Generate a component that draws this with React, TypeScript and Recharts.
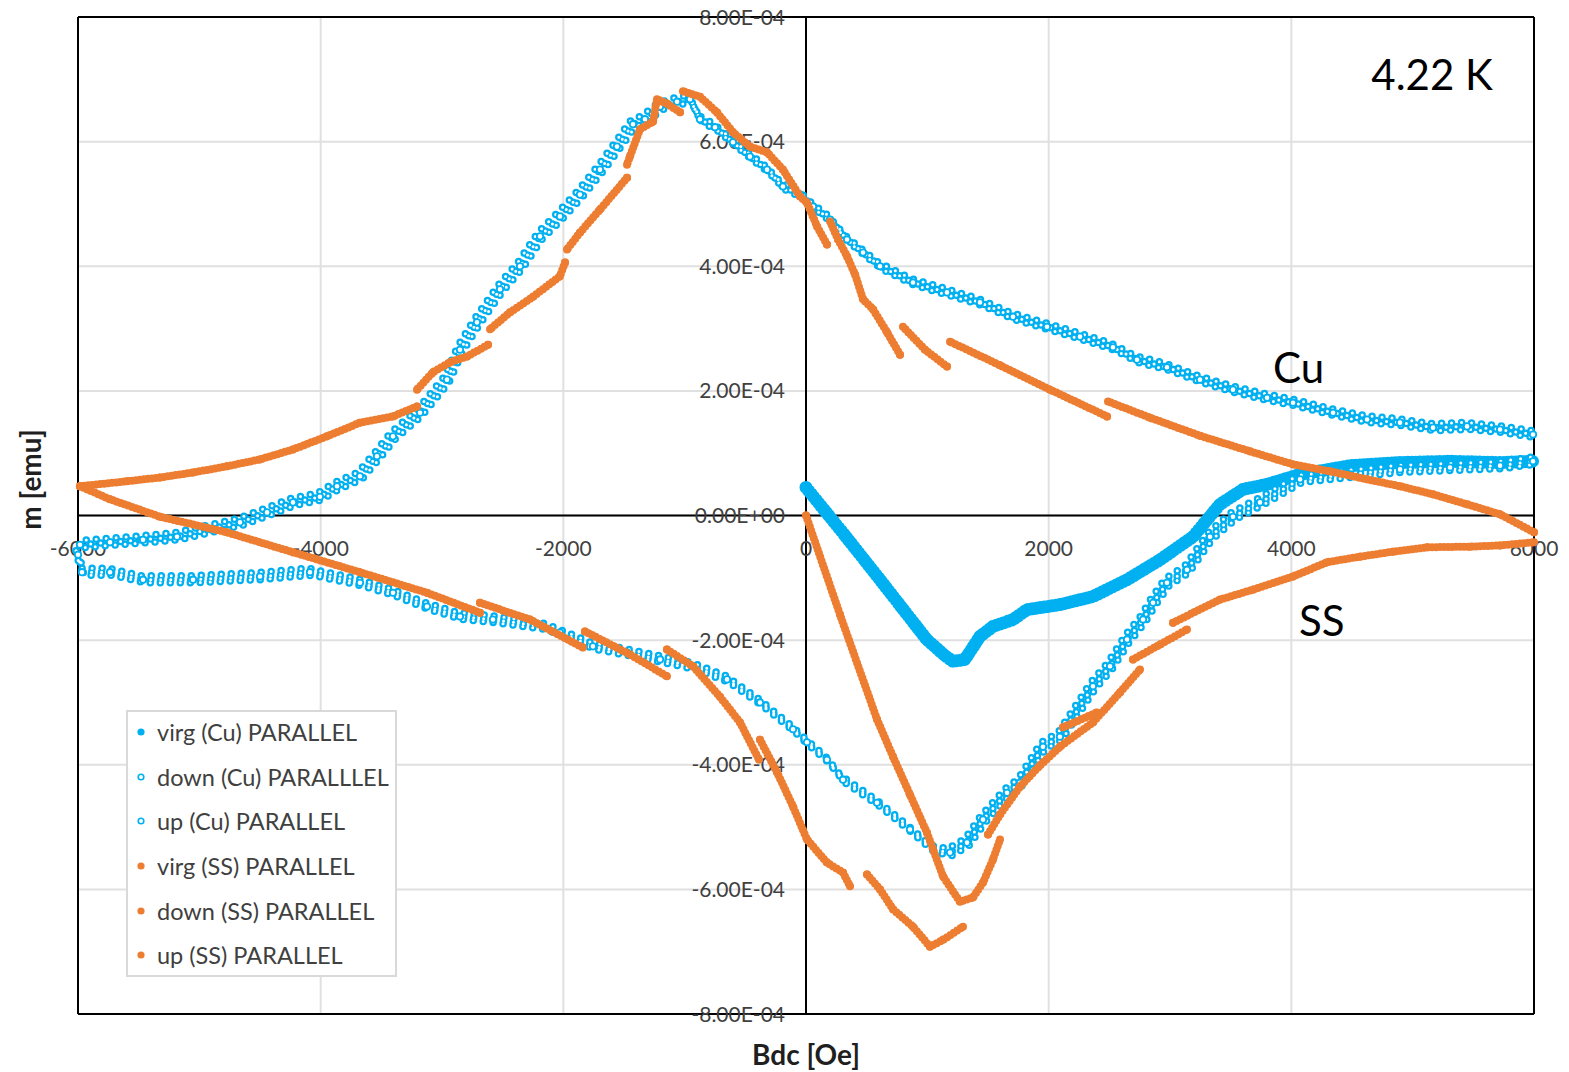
import React from "react";
import {
  ScatterChart,
  Scatter,
  XAxis,
  YAxis,
  CartesianGrid,
  ReferenceLine,
  ReferenceDot,
  Legend,
  Curve,
} from "recharts";

const BLUE = "#00b0f0";
const ORANGE = "#ed7d31";
const FONT = "Lato, 'Open Sans', sans-serif";

type P = [number, number]; // [field Oe, moment emu]

const xTicks = [-6000, -4000, -2000, 0, 2000, 4000, 6000];
const yTicks = [-8e-4, -6e-4, -4e-4, -2e-4, 0, 2e-4, 4e-4, 6e-4, 8e-4];

const seriesNames = [
  "virg (Cu) PARALLEL",
  "down (Cu) PARALLLEL",
  "up (Cu) PARALLEL",
  "virg (SS) PARALLEL",
  "down (SS) PARALLEL",
  "up (SS) PARALLEL",
];

// ---- Cu ----
const virgCu: P[] = [
  [0, 0.45e-4], [321, -0.32e-4], [610, -1.03e-4], [995, -1.99e-4], [1146, -2.25e-4],
  [1212, -2.34e-4], [1310, -2.31e-4], [1434, -1.94e-4], [1541, -1.78e-4], [1706, -1.67e-4],
  [1822, -1.51e-4], [2093, -1.43e-4], [2365, -1.3e-4], [2646, -1.03e-4], [2918, -0.71e-4],
  [3190, -0.34e-4], [3412, 0.18e-4], [3602, 0.42e-4], [3800, 0.5e-4], [4072, 0.66e-4],
  [4484, 0.8e-4], [4896, 0.85e-4], [5308, 0.87e-4], [5720, 0.85e-4], [5992, 0.87e-4],
];

const downCu: P[] = [
  [5992, 1.3e-4], [5720, 1.38e-4], [5448, 1.43e-4], [5168, 1.41e-4], [4896, 1.49e-4],
  [4624, 1.54e-4], [4344, 1.65e-4], [4014, 1.81e-4], [3800, 1.89e-4], [3519, 2.02e-4],
  [3247, 2.18e-4], [2975, 2.38e-4], [2728, 2.5e-4], [2530, 2.7e-4], [2258, 2.87e-4],
  [1986, 3.03e-4], [1706, 3.19e-4], [1434, 3.42e-4], [1162, 3.58e-4], [882, 3.74e-4],
  [610, 4.0e-4], [470, 4.22e-4], [338, 4.43e-4], [198, 4.75e-4], [58, 4.96e-4],
  [-49, 5.15e-4], [-190, 5.28e-4], [-321, 5.55e-4], [-462, 5.76e-4], [-602, 5.99e-4],
  [-750, 6.23e-4], [-874, 6.36e-4], [-956, 6.68e-4], [-1063, 6.64e-4], [-1203, 6.56e-4],
  [-1327, 6.36e-4], [-1426, 6.28e-4], [-1558, 5.92e-4], [-1698, 5.55e-4], [-1863, 5.15e-4],
  [-2028, 4.8e-4], [-2192, 4.48e-4], [-2357, 4.0e-4], [-2522, 3.63e-4], [-2712, 3.1e-4],
  [-2852, 2.66e-4], [-2959, 2.18e-4], [-3181, 1.65e-4], [-3404, 1.27e-4], [-3536, 0.95e-4],
  [-3676, 0.63e-4], [-3865, 0.47e-4], [-4006, 0.3e-4], [-4228, 0.21e-4], [-4442, 0.05e-4],
  [-4665, -0.11e-4], [-4912, -0.22e-4], [-5184, -0.34e-4], [-5464, -0.39e-4], [-5736, -0.43e-4],
  [-5984, -0.47e-4],
];

const upCu: P[] = [
  [-6000, -0.63e-4], [-5967, -0.91e-4], [-5736, -0.91e-4], [-5464, -1.03e-4], [-5052, -1.03e-4],
  [-4500, -0.98e-4], [-4088, -0.91e-4], [-3676, -1.08e-4], [-3404, -1.24e-4], [-3124, -1.46e-4],
  [-2852, -1.62e-4], [-2580, -1.67e-4], [-2168, -1.78e-4], [-2028, -1.88e-4], [-1756, -2.1e-4],
  [-1475, -2.2e-4], [-1203, -2.31e-4], [-931, -2.42e-4], [-651, -2.63e-4], [-379, -3.0e-4],
  [-107, -3.43e-4], [8, -3.64e-4], [173, -3.92e-4], [305, -4.24e-4], [585, -4.61e-4],
  [857, -5.04e-4], [1047, -5.36e-4], [1187, -5.41e-4], [1327, -5.25e-4], [1459, -4.88e-4],
  [1657, -4.45e-4], [1764, -4.29e-4], [1953, -3.71e-4], [2093, -3.55e-4], [2365, -2.74e-4],
  [2506, -2.42e-4], [2646, -1.99e-4], [2778, -1.67e-4], [2860, -1.4e-4], [2975, -1.08e-4],
  [3140, -0.87e-4], [3330, -0.34e-4], [3519, -0.02e-4], [3742, 0.21e-4], [4072, 0.58e-4],
  [4484, 0.66e-4], [4896, 0.74e-4], [5308, 0.77e-4], [5720, 0.8e-4], [5992, 0.87e-4],
];

// ---- SS ----
const virgSS: P[] = [
  [0, 0], [280, -1.59e-4], [585, -3.27e-4], [717, -3.87e-4], [857, -4.48e-4], [997, -5.09e-4],
  [1129, -5.79e-4], [1269, -6.2e-4], [1376, -6.13e-4], [1459, -5.89e-4], [1541, -5.52e-4],
  [1599, -5.2e-4],
];

const downSS1: P[] = [
  [6000, -0.27e-4], [5720, 0.02e-4], [5448, 0.18e-4], [5168, 0.34e-4], [4896, 0.47e-4],
  [4624, 0.58e-4], [4319, 0.71e-4], [4014, 0.82e-4], [3659, 1.03e-4], [3247, 1.28e-4],
  [2835, 1.57e-4], [2489, 1.83e-4],
];
const downSS2: P[] = [[2481, 1.59e-4], [2011, 2.02e-4], [1599, 2.41e-4], [1187, 2.79e-4]];
const downSS3: P[] = [[1162, 2.39e-4], [981, 2.66e-4], [799, 3.03e-4]];
const downSS4: P[] = [
  [775, 2.58e-4], [668, 2.94e-4], [552, 3.31e-4], [470, 3.47e-4], [404, 3.87e-4],
  [338, 4.16e-4], [264, 4.43e-4], [198, 4.72e-4],
];
const downSS5: P[] = [
  [173, 4.35e-4], [91, 4.64e-4], [8, 5.02e-4], [-49, 5.12e-4], [-190, 5.55e-4],
  [-321, 5.83e-4], [-462, 5.92e-4], [-602, 6.15e-4], [-734, 6.47e-4], [-874, 6.72e-4],
  [-1014, 6.81e-4],
];
const downSS6: P[] = [
  [-1038, 6.47e-4], [-1146, 6.61e-4], [-1228, 6.68e-4], [-1261, 6.32e-4], [-1368, 6.2e-4],
  [-1451, 5.76e-4], [-1475, 5.63e-4],
];
const downSS7: P[] = [[-1475, 5.42e-4], [-1698, 4.91e-4], [-1863, 4.54e-4], [-1970, 4.27e-4]];
const downSS8: P[] = [
  [-1986, 4.06e-4], [-2028, 3.84e-4], [-2250, 3.51e-4], [-2440, 3.26e-4], [-2604, 2.99e-4],
];
const downSS9: P[] = [
  [-2621, 2.74e-4], [-2794, 2.55e-4], [-2934, 2.46e-4], [-3074, 2.3e-4], [-3206, 2.02e-4],
];
const downSS10: P[] = [
  [-3206, 1.75e-4], [-3404, 1.59e-4], [-3676, 1.49e-4], [-3948, 1.27e-4], [-4228, 1.06e-4],
  [-4500, 0.9e-4], [-4772, 0.79e-4], [-5052, 0.69e-4], [-5324, 0.61e-4], [-5596, 0.55e-4],
  [-5984, 0.47e-4],
];

const upSS1: P[] = [
  [-5984, 0.47e-4], [-5736, 0.26e-4], [-5324, -0.02e-4], [-4772, -0.27e-4], [-4228, -0.59e-4],
  [-3676, -0.91e-4], [-3124, -1.24e-4], [-2687, -1.56e-4],
];
const upSS2: P[] = [[-2687, -1.4e-4], [-2275, -1.67e-4], [-1838, -2.12e-4]];
const upSS3: P[] = [[-1822, -1.86e-4], [-1451, -2.23e-4], [-1146, -2.58e-4]];
const upSS4: P[] = [
  [-1146, -2.15e-4], [-931, -2.42e-4], [-709, -2.91e-4], [-544, -3.32e-4], [-387, -3.92e-4],
];
const upSS5: P[] = [
  [-379, -3.6e-4], [-239, -4.12e-4], [-107, -4.67e-4], [8, -5.2e-4], [173, -5.57e-4],
  [305, -5.73e-4], [363, -5.95e-4],
];
const upSS6: P[] = [
  [503, -5.76e-4], [610, -6.0e-4], [717, -6.32e-4], [882, -6.6e-4], [1022, -6.92e-4],
  [1129, -6.81e-4], [1294, -6.6e-4],
];
const upSS7: P[] = [
  [1500, -5.12e-4], [1599, -4.8e-4], [1764, -4.35e-4], [1929, -4.01e-4], [2093, -3.71e-4],
  [2365, -3.32e-4], [2588, -2.84e-4], [2753, -2.47e-4],
];
const upSS8: P[] = [[2118, -3.4e-4], [2398, -3.16e-4]];
const upSS9: P[] = [[2695, -2.31e-4], [2918, -2.07e-4], [3140, -1.83e-4]];
const upSS10: P[] = [
  [3025, -1.72e-4], [3412, -1.35e-4], [3684, -1.19e-4], [4014, -0.98e-4], [4294, -0.75e-4],
  [4566, -0.66e-4], [4838, -0.58e-4], [5118, -0.51e-4], [5473, -0.5e-4], [5720, -0.48e-4],
  [6000, -0.43e-4],
];

const ssParts: P[][] = [
  virgSS,
  downSS1, downSS2, downSS3, downSS4, downSS5, downSS6, downSS7, downSS8, downSS9, downSS10,
  upSS1, upSS2, upSS3, upSS4, upSS5, upSS6, upSS7, upSS8, upSS9, upSS10,
];

const toPts = (a: P[]) => a.map(([x, y]) => ({ x, y }));

const fmtSci = (v: number) => {
  const [m, e] = v.toExponential(2).split("e");
  const n = parseInt(e, 10);
  return `${m}E${n < 0 ? "-" : "+"}${String(Math.abs(n)).padStart(2, "0")}`;
};

// dotted thick line: round caps with zero dash = a chain of dots
const dotLine = (color: string, width: number, gap: number) => (p: any) => (
  <Curve
    points={p.points}
    type="linear"
    fill="none"
    stroke={color}
    strokeWidth={width}
    strokeLinecap="round"
    strokeLinejoin="round"
    strokeDasharray={`0 ${gap}`}
  />
);

// chain of hollow rings, drawn as a loose band (a few shifted copies)
const ringShifts = [
  { dx: -2, dy: -4, off: 0 },
  { dx: 2, dy: 3, off: 5 },
  { dx: 0, dy: 0, off: 2.5 },
];
const ringLine = (p: any) => (
  <g>
    {ringShifts.map((s, i) => (
      <Curve key={`o${i}`} points={p.points} type="linear" fill="none" stroke={BLUE} strokeWidth={7.5}
        strokeLinecap="round" strokeDasharray="0 10" strokeDashoffset={s.off}
        transform={`translate(${s.dx},${s.dy})`} />
    ))}
    {ringShifts.map((s, i) => (
      <Curve key={`i${i}`} points={p.points} type="linear" fill="none" stroke="#fff" strokeWidth={3}
        strokeLinecap="round" strokeDasharray="0 10" strokeDashoffset={s.off}
        transform={`translate(${s.dx},${s.dy})`} />
    ))}
  </g>
);

const ringDot = (p: any) => (
  <circle cx={p.cx} cy={p.cy} r={3.2} fill="#fff" stroke={BLUE} strokeWidth={1.8} />
);
const fillDot = (color: string, r: number) => (p: any) => (
  <circle cx={p.cx} cy={p.cy} r={r} fill={color} />
);

const XTick = (props: any) => {
  const { viewBox, text } = props;
  if (!viewBox) return null;
  return (
    <text x={viewBox.x} y={viewBox.y + viewBox.height / 2 + 40} textAnchor="middle"
      fontSize={21} fontFamily={FONT} fill="#404040">
      {text}
    </text>
  );
};

const YTick = (props: any) => {
  const { viewBox, text } = props;
  if (!viewBox) return null;
  return (
    <text x={viewBox.x + viewBox.width / 2 - 21} y={viewBox.y + 7.5} textAnchor="end"
      fontSize={21} fontFamily={FONT} fill="#404040">
      {text}
    </text>
  );
};

const XTitle = (props: any) => {
  const { viewBox, text } = props;
  if (!viewBox) return null;
  return (
    <text x={viewBox.x + viewBox.width / 2} y={viewBox.y + 40} textAnchor="middle"
      dominantBaseline="central" fontSize={28} fontWeight={700} fontFamily={FONT} fill="#1f1f1f">
      {text}
    </text>
  );
};

const YTitle = (props: any) => {
  const { viewBox, text } = props;
  if (!viewBox) return null;
  const x = viewBox.x - 48;
  const y = viewBox.y + viewBox.height / 2 - 36;
  return (
    <text x={x} y={y} transform={`rotate(-90, ${x}, ${y})`} textAnchor="middle"
      dominantBaseline="central" fontSize={28} fontWeight={700} fontFamily={FONT} fill="#1f1f1f">
      {text}
    </text>
  );
};

const Note = (props: any) => {
  const { viewBox, text } = props;
  if (!viewBox) return null;
  return (
    <text x={viewBox.x + viewBox.width / 2} y={viewBox.y + viewBox.height / 2}
      textAnchor="middle" dominantBaseline="central" fontSize={42} fontFamily={FONT} fill="#000">
      {text}
    </text>
  );
};

const legendMarks = [
  { color: BLUE, hollow: false },
  { color: BLUE, hollow: true },
  { color: BLUE, hollow: true },
  { color: ORANGE, hollow: false },
  { color: ORANGE, hollow: false },
  { color: ORANGE, hollow: false },
];

const LegendBox = () => (
  <div
    style={{
      width: 271,
      height: 267,
      boxSizing: "border-box",
      border: "2px solid #d9d9d9",
      background: "#fff",
      fontFamily: FONT,
      fontSize: 23.5,
      color: "#404040",
    }}
  >
    <div style={{ marginTop: -2 }}>
      {seriesNames.map((name, i) => (
        <div key={name} style={{ height: 44.6, display: "flex", alignItems: "center", whiteSpace: "nowrap" }}>
          <svg width={26} height={12} style={{ flex: "none" }}>
            {legendMarks[i].hollow ? (
              <circle cx={13} cy={6} r={2.8} fill="#fff" stroke={BLUE} strokeWidth={1.6} />
            ) : (
              <circle cx={13} cy={6} r={3.6} fill={legendMarks[i].color} />
            )}
          </svg>
          <span style={{ marginLeft: 3 }}>{name}</span>
        </div>
      ))}
    </div>
  </div>
);

const App: React.FC = () => {
  return (
    <div style={{ position: "relative", width: 1569, height: 1072, fontFamily: FONT }}>
      <style>{"body { margin: 0; }"}</style>
      <ScatterChart width={1569} height={1072} margin={{ top: 17, right: 35, bottom: 58, left: 78 }}>
        <CartesianGrid stroke="#e0e0e0" strokeWidth={2} />
        <XAxis type="number" dataKey="x" domain={[-6000, 6000]} ticks={xTicks} hide />
        <YAxis type="number" dataKey="y" domain={[-8e-4, 8e-4]} ticks={yTicks} hide />

        <Scatter data={toPts(virgCu)} fill={BLUE} line={dotLine(BLUE, 13, 4)} shape={fillDot(BLUE, 6)}
          isAnimationActive={false} legendType="none" />
        <Scatter data={toPts(downCu)} fill={BLUE} line={ringLine} shape={ringDot}
          isAnimationActive={false} legendType="none" />
        <Scatter data={toPts(upCu)} fill={BLUE} line={ringLine} shape={ringDot}
          isAnimationActive={false} legendType="none" />
        {ssParts.map((seg, i) => (
          <Scatter key={`ss-${i}`} data={toPts(seg)} fill={ORANGE} line={dotLine(ORANGE, 8, 4)}
            shape={fillDot(ORANGE, 4)} isAnimationActive={false} legendType="none" />
        ))}

        {xTicks.map((t) => (
          <ReferenceLine key={`x${t}`} x={t} stroke={t === 0 || Math.abs(t) === 6000 ? "#000" : "none"}
            strokeWidth={2} label={<XTick text={String(t)} />} />
        ))}
        {yTicks.map((t) => (
          <ReferenceLine key={`y${t}`} y={t} stroke={t === 0 || Math.abs(t) === 8e-4 ? "#000" : "none"}
            strokeWidth={2} label={<YTick text={fmtSci(t)} />} />
        ))}
        <ReferenceLine y={-8e-4} stroke="none" label={<XTitle text="Bdc [Oe]" />} />
        <ReferenceLine x={-6000} stroke="none" label={<YTitle text="m [emu]" />} />

        <ReferenceDot x={5160} y={7.08e-4} r={0} fill="none" stroke="none" label={<Note text="4.22 K" />} />
        <ReferenceDot x={4060} y={2.39e-4} r={0} fill="none" stroke="none" label={<Note text="Cu" />} />
        <ReferenceDot x={4250} y={-1.67e-4} r={0} fill="none" stroke="none" label={<Note text="SS" />} />

        <Legend layout="vertical" align="center" verticalAlign="middle"
          wrapperStyle={{ left: 126, top: 710, width: 272, height: 268 }}
          content={() => <LegendBox />} />
      </ScatterChart>
    </div>
  );
};

export default App;
